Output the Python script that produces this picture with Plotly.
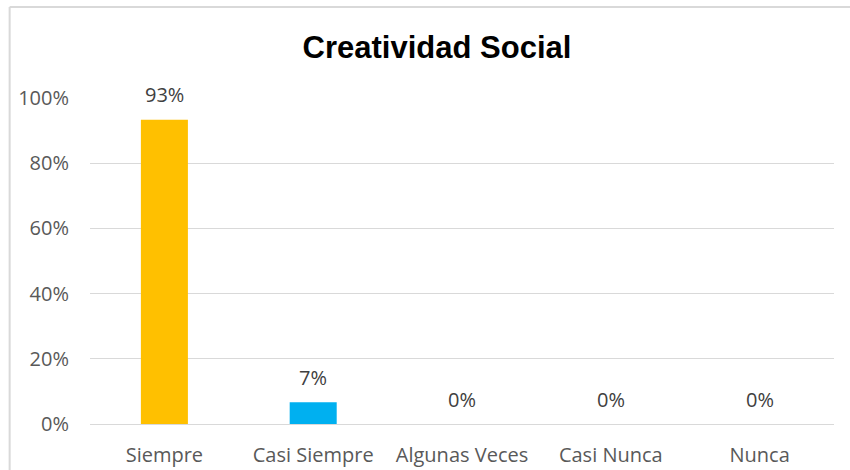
import plotly.graph_objects as go

categories = ["Siempre", "Casi Siempre", "Algunas Veces", "Casi Nunca", "Nunca"]
values = [14/15, 1/15, 0.0, 0.0, 0.0]
labels = ["93%", "7%", "0%", "0%", "0%"]
colors = ["#FFC000", "#00B0F0", "#5B9BD5", "#5B9BD5", "#5B9BD5"]
tick_vals = [0, 0.2, 0.4, 0.6, 0.8, 1.0]
tick_text = ["0%", "20%", "40%", "60%", "80%", "100%"]

FONT = "Open Sans"

fig = go.Figure()
fig.add_trace(go.Bar(
    x=categories, y=values, marker=dict(color=colors, line=dict(width=0)),
    width=0.316, hoverinfo="skip",
))

for c, v, t in zip(categories, values, labels):
    fig.add_annotation(x=c, y=v, text=t, showarrow=False, yanchor="middle",
                       yshift=25, font=dict(family=FONT, size=20, color="#404040"))

# chart border (left and top visible)
fig.add_shape(type="line", xref="paper", yref="paper", x0=-0.108, x1=1.2,
              y0=1.2791, y1=1.2791, line=dict(color="#D9D9D9", width=2))
fig.add_shape(type="line", xref="paper", yref="paper", x0=-0.108, x1=-0.108,
              y0=1.2791, y1=-0.3, line=dict(color="#D9D9D9", width=2))

fig.update_layout(
    width=850, height=470,
    margin=dict(l=90, r=16, t=98, b=46),
    paper_bgcolor="white", plot_bgcolor="white",
    showlegend=False,
    title=dict(text="<b>Creatividad Social</b>", x=437/850, xref="container",
               xanchor="center", y=1 - 47/470, yanchor="middle", yref="container",
               font=dict(family="Liberation Sans, Arial", size=31, color="black")),
    xaxis=dict(showgrid=False, showline=False, ticks="", automargin=False,
               tickfont=dict(family=FONT, size=20, color="#595959"),
               ticklabelstandoff=17),
    yaxis=dict(range=[0, 1], tickvals=tick_vals, ticktext=tick_text,
               showgrid=True, gridcolor="#D9D9D9", gridwidth=1,
               zeroline=True, zerolinecolor="#D9D9D9", zerolinewidth=1,
               showline=False, ticks="", automargin=False,
               tickfont=dict(family=FONT, size=20, color="#595959"),
               ticklabelstandoff=20),
)

fig.write_html("out.html")
